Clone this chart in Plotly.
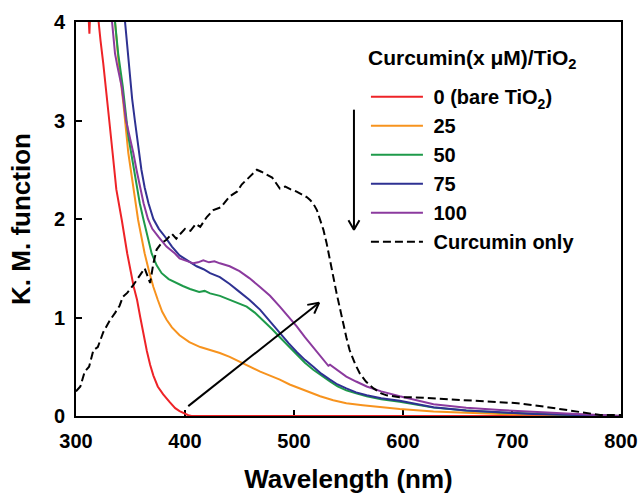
import math
import plotly.graph_objects as go

# ---------------- data ----------------
wl_0 = [300, 306, 310, 311.5, 312.3, 313, 314.5, 318, 320.5, 322.5, 325, 327.5, 330.5, 333.6, 337,
        342, 347, 353, 356, 359, 362, 365, 368, 371, 375, 380, 386, 391, 395, 399, 403, 406,
        450, 500, 600, 700, 800]
km_0 = [4.6, 4.5, 4.4, 4.1, 3.88, 4.1, 4.4, 4.3, 4.0, 3.81, 3.58, 3.34, 3.0, 2.67, 2.3,
        1.99, 1.65, 1.31, 1.18, 1.0, 0.82, 0.66, 0.52, 0.41, 0.3, 0.22, 0.14, 0.08, 0.05, 0.025, 0.008, 0.0,
        0.0, 0.0, 0.0, 0.0, 0.0]

wl_25 = [330, 335.8, 339, 343.4, 348, 352, 357, 360, 363, 367, 371, 375, 379, 383, 388, 395, 404,
         414, 423, 432, 441, 450, 460, 469, 478, 487, 496, 505, 515, 524, 536, 548, 563, 579, 597,
         628, 658, 689, 720, 750, 800]
km_25 = [4.4, 4.0, 3.6, 3.18, 2.67, 2.35, 1.99, 1.82, 1.65, 1.47, 1.31, 1.18, 1.06, 0.98, 0.9, 0.82, 0.75,
         0.70, 0.67, 0.64, 0.6, 0.55, 0.5, 0.45, 0.41, 0.37, 0.32, 0.28, 0.24, 0.2, 0.16, 0.13, 0.11, 0.09, 0.07,
         0.045, 0.03, 0.02, 0.015, 0.01, 0.0]

wl_50 = [330, 335.8, 338.7, 343, 348, 352, 355.7, 358.5, 361.8, 365.5, 369.4, 374, 378.6, 385, 392, 398,
         404.6, 413, 418, 423, 432, 441, 449, 456.6, 464, 471.8, 480, 487, 495, 502.5, 510, 517.7, 525, 533,
         540, 548, 557, 566.7, 580, 597, 628, 658, 689, 720, 750, 800]
km_50 = [4.5, 4.0, 3.68, 3.34, 2.84, 2.58, 2.33, 2.16, 2.0, 1.82, 1.65, 1.53, 1.45, 1.39, 1.35, 1.32,
         1.29, 1.26, 1.27, 1.245, 1.22, 1.18, 1.15, 1.11, 1.05, 0.97, 0.88, 0.8, 0.71, 0.62, 0.54, 0.47, 0.41, 0.35,
         0.3, 0.26, 0.23, 0.2, 0.17, 0.145, 0.085, 0.055, 0.035, 0.02, 0.012, 0.0]

wl_75 = [340, 345, 347, 348.3, 349, 351.5, 354, 357, 360, 363, 366.5, 371, 376, 381.7, 388, 395, 403,
         410.7, 417, 423, 432, 441, 450, 459, 468.8, 478, 487, 495, 502.5, 510, 517.7, 525, 533, 540,
         548, 557, 566.7, 580, 597, 628, 658, 689, 720, 750, 800]
km_75 = [4.6, 4.0, 3.7, 3.58, 3.44, 3.22, 3.0, 2.75, 2.5, 2.32, 2.16, 2.0, 1.9, 1.82, 1.72, 1.63, 1.57,
         1.52, 1.49, 1.45, 1.41, 1.34, 1.26, 1.18, 1.08, 0.96, 0.84, 0.74, 0.65, 0.57, 0.5, 0.43, 0.37, 0.32,
         0.28, 0.24, 0.21, 0.18, 0.155, 0.09, 0.055, 0.035, 0.02, 0.012, 0.0]

wl_100 = [328, 332.7, 335.8, 338, 342, 345.9, 349, 352.6, 355.5, 358.7, 362, 366, 370, 375.5, 383, 390.8,
          395, 400, 404.6, 407.6, 412, 416.8, 422, 427, 432, 441, 450, 459, 468.8, 478, 487, 495, 502.5,
          510, 517.7, 524, 530, 531.5, 533, 540, 548, 557, 566.7, 580, 597, 628, 658, 689, 720, 750, 780, 800]
km_100 = [4.6, 4.0, 3.68, 3.55, 3.34, 3.0, 2.85, 2.67, 2.5, 2.33, 2.16, 2.0, 1.9, 1.82, 1.72, 1.65,
          1.6, 1.58, 1.56, 1.55, 1.56, 1.58, 1.56, 1.57, 1.55, 1.52, 1.47, 1.4, 1.31, 1.22, 1.11, 1.01, 0.91,
          0.8, 0.7, 0.61, 0.535, 0.51, 0.52, 0.46, 0.4, 0.35, 0.3, 0.25, 0.2, 0.12, 0.085, 0.06, 0.04, 0.025, 0.01, 0.0]

wl_cur = [300, 304, 308, 312, 316, 320, 325, 331, 336, 340, 343, 347, 352, 356, 360, 363, 366, 368,
          371, 374, 378, 383, 388, 392, 395, 400, 405, 410, 414, 420, 426, 433, 441, 448, 452, 457, 462,
          466, 470, 475, 480, 487, 492, 497, 502, 507, 512, 515, 518, 521, 524, 527, 530, 533, 536, 539,
          542, 545, 548, 551, 556, 560.5, 566, 573, 580, 585, 597, 610, 628, 640, 658, 675, 689, 705,
          720, 735, 750, 765, 781, 800]
km_cur = [0.25, 0.3, 0.45, 0.5, 0.67, 0.7, 0.85, 0.97, 1.05, 1.12, 1.21, 1.25, 1.32, 1.38, 1.45, 1.5, 1.42, 1.35,
          1.55, 1.69, 1.75, 1.79, 1.85, 1.8, 1.84, 1.9, 1.88, 1.95, 1.92, 2.02, 2.09, 2.12, 2.23, 2.28, 2.35, 2.4, 2.45,
          2.5, 2.48, 2.45, 2.42, 2.31, 2.33, 2.3, 2.28, 2.25, 2.22, 2.19, 2.15, 2.09, 2.0, 1.89, 1.75, 1.58, 1.4, 1.25,
          1.1, 0.94, 0.8, 0.67, 0.53, 0.43, 0.35, 0.28, 0.23, 0.21, 0.19, 0.19, 0.18, 0.17, 0.16, 0.15, 0.145, 0.13,
          0.11, 0.085, 0.06, 0.035, 0.01, 0.01]

legend_title = "Curcumin(x \u03bcM)/TiO<sub>2</sub>"
series_names = ["0 (bare TiO<sub>2</sub>)", "25", "50", "75", "100", "Curcumin only"]
series_x = [wl_0, wl_25, wl_50, wl_75, wl_100, wl_cur]
series_y = [km_0, km_25, km_50, km_75, km_100, km_cur]
series_colors = ["#EE2327", "#F7931E", "#1E9A4A", "#2E3192", "#8B3A9E", "#000000"]
series_dash = ["solid", "solid", "solid", "solid", "solid", "8px,4px"]

x_ticks = [300, 400, 500, 600, 700, 800]
y_ticks = [0, 1, 2, 3, 4]
x_range = [300, 800]
y_range = [0, 4]

# guide arrows (data units): [x_start, y_start, x_end, y_end]
arrow_diag = [403, 0.1, 523, 1.15]
arrow_down = [555, 3.11, 555, 1.89]

# ---------------- layout constants ----------------
W, H = 640, 496
ML, MR, MT, MB = 76, 19, 22, 80
FONT = "Liberation Sans, Arial, sans-serif"
NBSP = "\u00a0"

fig = go.Figure()
for name, xs, ys, col, dsh in zip(series_names, series_x, series_y, series_colors, series_dash):
    fig.add_trace(go.Scatter(x=xs, y=ys, mode="lines", name=NBSP + name, legendgroup=name,
                             line=dict(color=col, width=2, dash=dsh)))

px_per_x = (W - ML - MR) / (x_range[1] - x_range[0])
px_per_y = (H - MT - MB) / (y_range[1] - y_range[0])


def add_arrow(a, head_len=12, head_ang=28):
    x0, y0, x1, y1 = a
    fig.add_trace(go.Scatter(x=[x0, x1], y=[y0, y1], mode="lines", showlegend=False, hoverinfo="skip",
                             line=dict(color="black", width=2)))
    dxp = (x1 - x0) * px_per_x
    dyp = (y1 - y0) * px_per_y
    n = math.hypot(dxp, dyp)
    bx, by = -dxp / n, -dyp / n
    hxs, hys = [], []
    for s in (1, -1):
        t = math.radians(head_ang * s)
        hx = bx * math.cos(t) - by * math.sin(t)
        hy = bx * math.sin(t) + by * math.cos(t)
        hxs.append(x1 + hx * head_len / px_per_x)
        hys.append(y1 + hy * head_len / px_per_y)
    fig.add_trace(go.Scatter(x=[hxs[0], x1, hxs[1]], y=[hys[0], y1, hys[1]], mode="lines",
                             showlegend=False, hoverinfo="skip",
                             line=dict(color="black", width=2)))


add_arrow(arrow_diag)
add_arrow(arrow_down, head_len=11, head_ang=30)

axis_common = dict(showline=True, linewidth=2, linecolor="black", mirror=True, showgrid=False,
                   zeroline=False, ticks="inside", ticklen=6, tickwidth=2, tickcolor="black",
                   automargin=False, ticklabeloverflow="allow",
                   tickfont=dict(family=FONT, size=20, color="black", weight="bold"))

fig.update_layout(
    width=W, height=H,
    margin=dict(l=ML, r=MR, t=MT, b=MB),
    paper_bgcolor="white", plot_bgcolor="white",
    font=dict(family=FONT, color="black"),
    xaxis=dict(range=x_range, tickvals=x_ticks, layer="below traces",
               title=dict(text="Wavelength (nm)", font=dict(family=FONT, size=26, color="black", weight="bold"),
                          standoff=19),
               ticklabelstandoff=6, **axis_common),
    yaxis=dict(range=y_range, tickvals=y_ticks, layer="below traces",
               title=dict(text="K. M. function", font=dict(family=FONT, size=26, color="black", weight="bold"),
                          standoff=16),
               ticklabelstandoff=5, **axis_common),
    showlegend=True,
    legend=dict(x=0.532, y=0.86, xanchor="left", yanchor="top", bgcolor="rgba(0,0,0,0)",
                font=dict(family=FONT, size=20, color="black", weight="bold"),
                itemwidth=52, tracegroupgap=0, traceorder="normal"),
    annotations=[dict(text=legend_title, xref="paper", yref="paper", x=0.532, y=0.906,
                      xanchor="left", yanchor="middle", showarrow=False,
                      font=dict(family=FONT, size=21, color="black", weight="bold"))],
)

# remove the browser's default 8px page margin so the figure fills the window exactly
fig.write_html("out.html", config={"displayModeBar": False},
               post_script="document.body.style.margin='0';document.body.style.overflow='hidden';")
